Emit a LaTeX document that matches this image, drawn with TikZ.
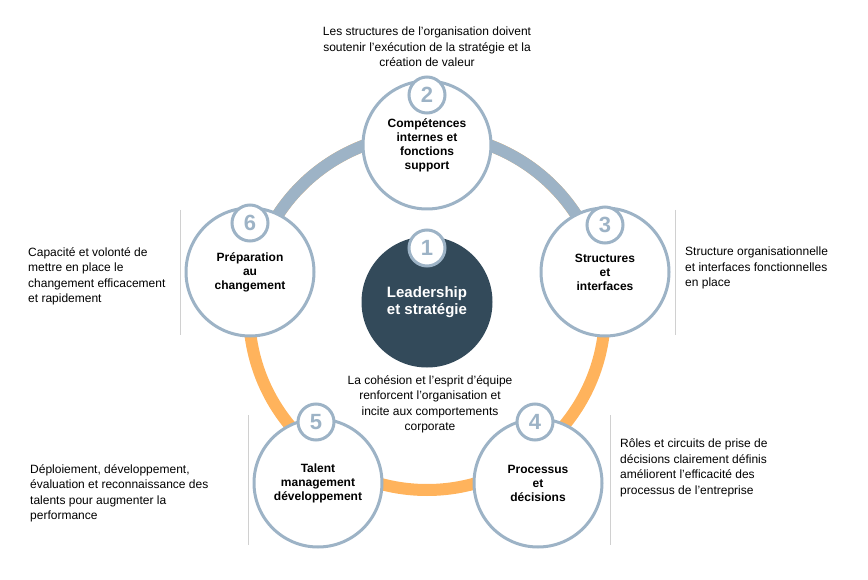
\documentclass[tikz,border=0pt]{standalone}
\usepackage{fontspec}
\setmainfont{Liberation Sans}
\definecolor{ringgray}{HTML}{9DB3C6}
\definecolor{ringorange}{HTML}{FFB35C}
\definecolor{darkcore}{HTML}{334A5A}
\definecolor{sepgray}{HTML}{D0D0D0}
\usetikzlibrary{positioning}

\begin{document}
\begin{tikzpicture}[x=1pt, y=-1pt,
  pillar/.style={circle, draw=ringgray, line width=3pt, fill=white,
    minimum size=128pt, align=center, font=\fontsize{12}{14}\selectfont\bfseries},
  badge/.style={circle, draw=ringgray, line width=3pt, fill=white,
    minimum size=36pt, inner sep=0pt, text=ringgray, font=\fontsize{22}{22}\selectfont\bfseries},
  note/.style={font=\fontsize{12}{15.5}\selectfont, inner sep=0pt},
  sep/.style={sepgray, line width=0.8pt}
]
  \useasboundingbox (0,0) rectangle (868,580);

  % ring
  \draw[ringorange, line width=12pt] (427,312) circle[radius=178];
  \draw[ringgray, line width=12pt] (427,312) ++(-13:178) arc[start angle=-13, end angle=-167, radius=178];

  % pillars
  \node[pillar, fill=darkcore, draw=darkcore, text=white,
    font=\fontsize{15}{17}\selectfont\bfseries] (core) at (427,302) {Leadership\\et stratégie};
  \node[pillar] (comp) at (427,145) {Compétences\\internes et\\fonctions\\support};
  \node[pillar] (struct) at (605,272) {Structures\\et\\interfaces};
  \node[pillar] (prep) at (250,272) {Préparation\\au\\changement};
  \node[pillar] (talent) at (318,483) {Talent\\management\\développement};
  \node[pillar] (proc) at (538,483) {Processus\\et\\décisions};

  % badges
  \node[badge] (b1) at (427,248) {1};
  \node[badge] (b2) at (427,95) {2};
  \node[badge] (b3) at (605,225) {3};
  \node[badge] (b6) at (250,223) {6};
  \node[badge] (b4) at (535,422) {4};
  \node[badge] (b5) at (316,422) {5};

  % notes
  \node[note, align=center, anchor=north] (ncomp) at (427,27)
    {Les structures de l'organisation doivent\\soutenir l'exécution de la stratégie et la\\création de valeur};
  \node[note, align=left, anchor=north west] (nstruct) at (685,247)
    {Structure organisationnelle\\et interfaces fonctionnelles\\en place};
  \node[note, align=left, anchor=north west] (nprep) at (28,247)
    {Capacité et volonté de\\mettre en place le\\changement efficacement\\et rapidement};
  \node[note, align=center, anchor=north] (ncore) at (430,375)
    {La cohésion et l'esprit d'équipe\\renforcent l'organisation et\\incite aux comportements\\corporate};
  \node[note, align=left, anchor=north west] (ntalent) at (30,464)
    {Déploiement, développement,\\évaluation et reconnaissance des\\talents pour augmenter la\\performance};
  \node[note, align=left, anchor=north west] (nproc) at (620,439)
    {Rôles et circuits de prise de\\décisions clairement définis\\améliorent l'efficacité des\\processus de l'entreprise};

  % separators
  \coordinate (s1a) at (180,210); \coordinate (s1b) at (180,335);
  \coordinate (s2a) at (675,210); \coordinate (s2b) at (675,335);
  \coordinate (s3a) at (248,415); \coordinate (s3b) at (248,545);
  \coordinate (s4a) at (610,415); \coordinate (s4b) at (610,545);
  \draw[sep] (s1a) -- (s1b);
  \draw[sep] (s2a) -- (s2b);
  \draw[sep] (s3a) -- (s3b);
  \draw[sep] (s4a) -- (s4b);
\end{tikzpicture}
\end{document}
